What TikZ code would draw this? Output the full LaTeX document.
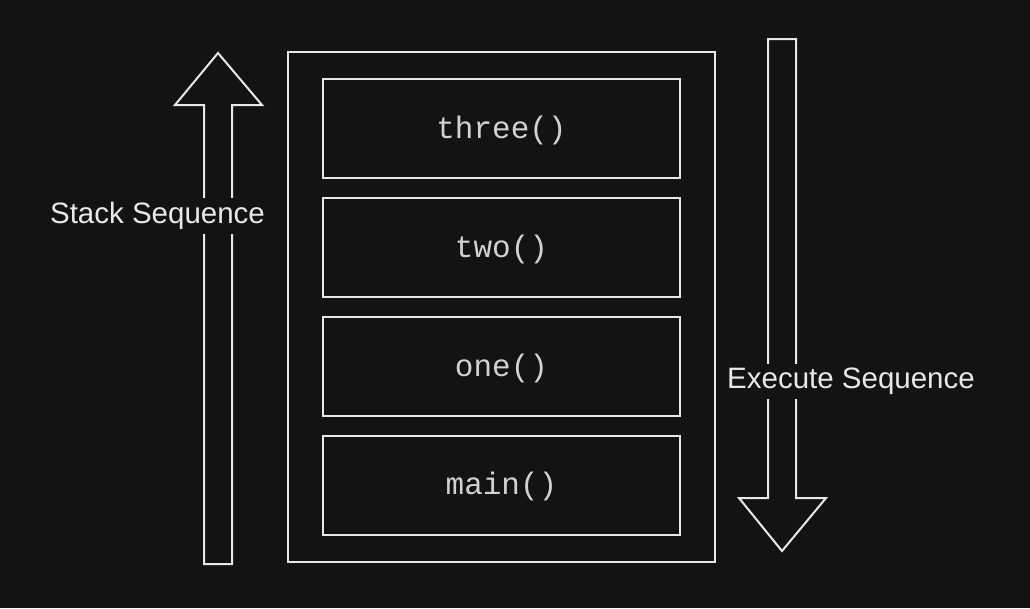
\documentclass[tikz,border=0pt]{standalone}
\usepackage{fontspec}
\setmainfont{Liberation Sans}
\newfontfamily\codefont{Liberation Mono}
\definecolor{bgc}{HTML}{131313}
\definecolor{linec}{HTML}{E8E8E8}
\definecolor{codec}{HTML}{D2D2D2}
\newcommand{\codetxt}[1]{\raisebox{-2.5pt}[20pt][6pt]{#1}}
\begin{document}
\begin{tikzpicture}[x=1pt,y=-1pt,
  outline/.style={draw=linec,line width=2pt,line join=miter},
  frame/.style={outline,fill=none},
  callbox/.style={outline,rectangle,minimum width=357pt,minimum height=99pt,inner sep=0pt,
    font=\codefont\fontsize{31}{31}\selectfont,text=codec},
  seqlabel/.style={fill=bgc,text=linec,inner xsep=0pt,inner ysep=4pt,
    font=\fontsize{29.5}{30}\selectfont}]
\fill[bgc] (0,0) rectangle (1030,608);
\useasboundingbox (0,0) rectangle (1030,608);
% stack frame
\draw[frame] (288,52) rectangle (715,562);
\node[callbox] (three) at (501.5,128.5) {\codetxt{three()}};
\node[callbox] (two) at (501.5,247.5) {\codetxt{two()}};
\node[callbox] (one) at (501.5,366.5) {\codetxt{one()}};
\node[callbox] (main) at (501.5,485) {\codetxt{main()}};
% up arrow
\draw[outline] (218,53) -- (262,105) -- (232,105) -- (232,564) -- (204,564) -- (204,105) -- (175,105) -- cycle;
% down arrow
\draw[outline] (768,39) -- (796,39) -- (796,498) -- (826,498) -- (782,551) -- (739,498) -- (768,498) -- cycle;
% labels
\node[seqlabel] (stack) at (157.5,216) {Stack Sequence};
\node[seqlabel] (exec) at (851,381.5) {Execute Sequence};
\end{tikzpicture}
\end{document}
